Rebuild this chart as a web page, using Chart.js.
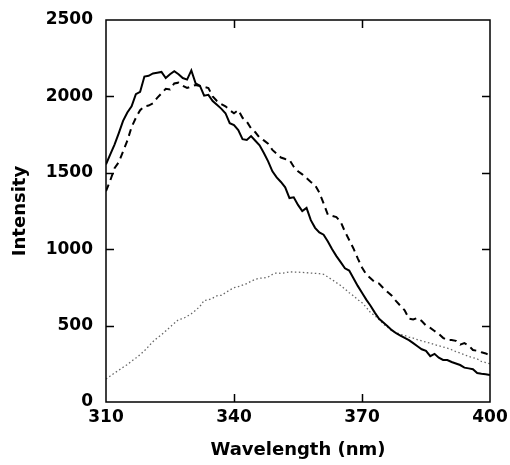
<!DOCTYPE html>
<html>
<head>
<meta charset="utf-8">
<script src="https://cdn.jsdelivr.net/npm/chart.js@4/dist/chart.umd.min.js"></script>
<style>
html,body{margin:0;padding:0;background:#fff;}
canvas{display:block;}
</style>
</head>
<body>
<canvas id="c" width="510" height="465"></canvas>
<script>
const wavelengths = [310,311,312,313,314,315,316,317,318,319,320,321,322,323,324,325,326,327,328,329,
330,331,332,333,334,335,336,337,338,339,340,341,342,343,344,345,346,347,348,349,
350,351,352,353,354,355,356,357,358,359,360,361,362,363,364,365,366,367,368,369,
370,371,372,373,374,375,376,377,378,379,380,381,382,383,384,385,386,387,388,389,
390,391,392,393,394,395,396,397,398,399,400];

const solidSeries = [1555,1620,1685,1760,1840,1895,1935,2015,2030,2130,2135,2150,2155,2160,2120,2145,2165,2145,2120,2110,
2170,2085,2070,2005,2010,1970,1945,1920,1890,1825,1812,1780,1720,1715,1740,1710,1680,1630,1575,1510,
1470,1440,1405,1335,1340,1290,1250,1270,1190,1140,1110,1095,1050,1000,955,915,875,860,810,760,
715,670,630,585,545,520,495,470,450,435,420,405,385,365,345,335,300,315,290,275,
275,262,252,242,225,220,215,190,185,182,177];

const dashedSeries = [1380,1450,1530,1570,1640,1710,1800,1860,1910,1935,1940,1955,1990,2020,2050,2045,2085,2090,2070,2055,
2065,2075,2068,2062,2055,2000,1970,1950,1935,1910,1890,1910,1860,1835,1790,1765,1730,1712,1690,1650,
1625,1600,1590,1585,1540,1510,1490,1465,1440,1420,1370,1300,1225,1218,1210,1180,1115,1060,1005,940,
880,835,810,785,775,745,720,695,660,630,600,545,540,550,530,500,485,465,445,420,
405,405,400,375,385,370,340,335,325,318,305];

const dottedSeries = [150,170,190,208,227,245,267,288,310,335,365,395,420,440,465,490,515,540,545,560,
578,600,625,665,668,680,695,698,715,733,748,755,765,775,790,803,810,812,818,835,
846,842,845,852,850,850,848,846,844,842,840,836,818,800,781,762,740,715,695,670,
650,620,585,565,540,510,490,465,455,442,435,425,418,408,400,392,385,375,368,360,
352,342,330,320,310,298,290,282,265,258,250];

const xTickValues = [310,340,370,400];
const yTickValues = [0,500,1000,1500,2000,2500];
const xInnerTicks = [340,370];
const yInnerTicks = [500,1000,1500,2000];

function pts(ys){ return wavelengths.map((x,i)=>({x:x,y:ys[i]})); }

const FONT = "'DejaVu Sans', sans-serif";

const frameTicks = {
  id:'frameTicks',
  afterDatasetsDraw(chart){
    const {ctx, chartArea:a, scales} = chart;
    const xs = scales.x, ys = scales.y;
    ctx.save();
    ctx.strokeStyle = '#000';
    ctx.lineWidth = 1.5;
    ctx.strokeRect(a.left, a.top, a.right-a.left, a.bottom-a.top);
    ctx.beginPath();
    const tl = 8;
    xInnerTicks.forEach(v=>{
      const px = Math.round(xs.getPixelForValue(v))+0.5;
      ctx.moveTo(px, a.bottom); ctx.lineTo(px, a.bottom-tl);
      ctx.moveTo(px, a.top); ctx.lineTo(px, a.top+tl);
    });
    yInnerTicks.forEach(v=>{
      const py = Math.round(ys.getPixelForValue(v))+0.5;
      ctx.moveTo(a.left, py); ctx.lineTo(a.left+tl, py);
      ctx.moveTo(a.right, py); ctx.lineTo(a.right-tl, py);
    });
    ctx.stroke();
    ctx.restore();
  }
};

new Chart(document.getElementById('c'), {
  type:'line',
  data:{
    datasets:[
      {label:'solid', data:pts(solidSeries), borderColor:'#000', borderWidth:2, pointRadius:0, tension:0, fill:false},
      {label:'dashed', data:pts(dashedSeries), borderColor:'#000', borderWidth:2, borderDash:[7,5], pointRadius:0, tension:0, fill:false},
      {label:'dotted', data:pts(dottedSeries), borderColor:'#666', borderWidth:1.3, borderDash:[1.5,2.5], pointRadius:0, tension:0, fill:false}
    ]
  },
  options:{
    responsive:false,
    animation:false,
    layout:{padding:{left:0,top:20,right:20,bottom:0}},
    plugins:{legend:{display:false}, tooltip:{enabled:false}},
    scales:{
      x:{
        type:'linear', min:310, max:400,
        afterBuildTicks(s){ s.ticks = xTickValues.map(v=>({value:v})); },
        afterFit(s){ s.height = 63; s.paddingLeft = 0; s.paddingRight = 0; },
        grid:{display:false, drawTicks:false},
        border:{display:false},
        ticks:{padding:5, color:'#000', maxRotation:0, autoSkip:false, callback:v=>String(v), font:{family:FONT, size:17, weight:'bold'}},
        title:{display:true, text:'Wavelength (nm)', color:'#000', padding:{top:0,bottom:4}, font:{family:FONT, size:18, weight:'bold'}}
      },
      y:{
        type:'linear', min:0, max:2500,
        afterBuildTicks(s){ s.ticks = yTickValues.map(v=>({value:v})); },
        afterFit(s){ s.width = 106; s.paddingTop = 0; s.paddingBottom = 0; },
        grid:{display:false, drawTicks:false},
        border:{display:false},
        ticks:{padding:13, color:'#000', callback:v=>String(v), font:{family:FONT, size:17, weight:'bold'}},
        title:{display:true, text:'Intensity', color:'#000', padding:{top:10,bottom:0}, font:{family:FONT, size:18, weight:'bold'}}
      }
    }
  },
  plugins:[frameTicks]
});
</script>
</body>
</html>
